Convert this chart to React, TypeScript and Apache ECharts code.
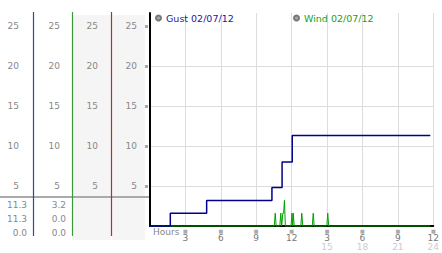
import React, { useEffect, useRef } from "react";
import * as echarts from "echarts";

const gustName = "Gust 02/07/12";
const windName = "Wind 02/07/12";
const xTitle = "Hours";

// hours since midnight, values
const gustHours = [0, 1.72, 4.8, 10.33, 11.19, 12.05, 23.75];
const gustValues = [0, 1.6, 3.2, 4.8, 8.0, 11.3, 11.3];

const windHours = [
  0, 10.53, 10.61, 10.69, 11.0, 11.08, 11.16, 11.25, 11.32, 11.39, 11.47,
  11.95, 12.03, 12.09, 12.14, 12.22, 12.78, 12.86, 12.94, 13.75, 13.83, 13.91,
  14.98, 15.06, 15.14, 23.75,
];
const windValues = [
  0, 0, 1.6, 0, 0, 1.6, 0, 1.6, 1.6, 3.2, 0,
  0, 1.6, 0, 1.6, 0, 0, 1.6, 0, 0, 1.6, 0,
  0, 1.6, 0, 0,
];

const yTickValues = [5, 10, 15, 20, 25];
const xMin = 0;
const xMax = 24;
const xInterval = 3;

const FONT = "DejaVu Sans";
const GUST_COLOR = "#00008b";
const WIND_COLOR = "#00a000";

const stats = (v: number[]) =>
  [Math.max(...v), v[v.length - 1], Math.min(...v)].map((x) => x.toFixed(1));

export default function App() {
  const ref = useRef<HTMLDivElement>(null);

  useEffect(() => {
    if (!ref.current) return;
    const chart = echarts.init(ref.current, null, { renderer: "svg" });

    const gridLeft = 150;
    const gridTop = 13;
    const gridBottom = 27;
    const H = 253;
    const yMax = (H - gridBottom - gridTop) / 8; // 8px per unit

    const colAxes = [39, 78, 117]; // offsets of the left columns' axes
    const colLineX = [33.5, 72.5, 111.5];
    const colLineColor = ["#2a4a9a", "#3a9a3a", "#b03030"];

    const gustStats = stats(gustValues);
    const windStats = stats(windValues);
    const tableRowsY = [205, 219, 233];

    const labelStyle = { color: "#888", fontFamily: FONT, fontSize: 9 };

    const yAxisBase = {
      type: "value" as const,
      min: 0,
      max: yMax,
      position: "left" as const,
      gridIndex: 0,
    };

    const graphics: any[] = [
      { type: "rect", z: -10, shape: { x: 73, y: 15, width: 38, height: 225 }, style: { fill: "#f5f5f5" } },
      { type: "rect", z: -10, shape: { x: 112, y: 15, width: 33, height: 225 }, style: { fill: "#f5f5f5" } },
      { type: "line", z: 5, shape: { x1: 0, y1: 197, x2: 149, y2: 197 }, style: { stroke: "#aaa", lineWidth: 2 } },
      {
        type: "text",
        z: 7,
        x: 153,
        y: 231.5,
        style: { text: xTitle, align: "left", verticalAlign: "middle", fill: "#888", font: `9px "${FONT}"` },
      },
    ];
    colLineX.forEach((x, i) =>
      graphics.push({
        type: "line",
        z: 6,
        shape: { x1: x, y1: 12, x2: x, y2: 236 },
        style: { stroke: colLineColor[i], lineWidth: 1.2 },
      })
    );
    [gustStats, windStats].forEach((col, ci) =>
      col.forEach((t, ri) =>
        graphics.push({
          type: "text",
          z: 7,
          x: ci === 0 ? 27 : 66,
          y: tableRowsY[ri],
          style: {
            text: t,
            align: "right",
            verticalAlign: "middle",
            fill: "#888",
            font: `9px "${FONT}"`,
          },
        })
      )
    );

    const legendCommon = {
      top: 13,
      icon: "circle",
      itemWidth: 5,
      itemHeight: 5,
      padding: 0,
      textStyle: { fontFamily: FONT, fontSize: 9.5 },
      selectedMode: false,
    };

    chart.setOption({
      animation: false,
      textStyle: { fontFamily: FONT },
      grid: { left: gridLeft, right: 4, top: gridTop, bottom: gridBottom },
      legend: [
        {
          ...legendCommon,
          data: [{ name: gustName, textStyle: { color: "#1a1aa0" } }],
          left: 155,
        },
        {
          ...legendCommon,
          data: [{ name: windName, textStyle: { color: "#20a020" } }],
          left: 293,
        },
      ],
      xAxis: {
        type: "value",
        min: xMin,
        max: xMax,
        interval: xInterval,
        axisLine: { lineStyle: { color: "#000", width: 2 } },
        axisTick: { show: false },
        splitLine: { show: true, lineStyle: { color: "#ddd", width: 1 } },
        axisLabel: {
          margin: 2,
          formatter: (v: number) => {
            if (v === 0) return "";
            const h12 = v % 12 === 0 ? 12 : v % 12;
            return v > 12 ? `{m|■}\n{a|${h12}}\n{b|${v}}` : `{m|■}\n{a|${h12}}`;
          },
          rich: {
            m: { color: "#aaa", fontFamily: FONT, fontSize: 5, lineHeight: 5 },
            a: { color: "#777", fontFamily: FONT, fontSize: 9, lineHeight: 9 },
            b: { color: "#ccc", fontFamily: FONT, fontSize: 9, lineHeight: 9 },
          },
        },
      },
      yAxis: [
        {
          ...yAxisBase,
          offset: 0,
          axisLine: { show: true, lineStyle: { color: "#000", width: 2 } },
          axisTick: {
            show: true,
            length: 6,
            customValues: yTickValues,
            lineStyle: { color: "#aaa", width: 3, type: [3, 10], dashOffset: -2 },
          },
          axisLabel: { ...labelStyle, margin: 13, customValues: yTickValues },
          splitLine: { show: true, showMaxLine: false, lineStyle: { color: "#ddd", width: 1 } },
        },
        ...colAxes.map((off, i) => ({
          ...yAxisBase,
          offset: off,
          axisLine: { show: false },
          axisTick: { show: false, customValues: yTickValues },
          splitLine: { show: false },
          axisLabel: { ...labelStyle, margin: i === 2 ? 14 : i === 1 ? 12 : 13, customValues: yTickValues },
        })),
      ],
      series: [
        {
          name: windName,
          type: "line",
          data: windHours.map((h, i) => [h, windValues[i]]),
          showSymbol: false,
          symbol: "none",
          clip: false,
          lineStyle: { color: WIND_COLOR, width: 1 },
          itemStyle: { color: "#aaa", borderColor: "#777", borderWidth: 1 },
          z: 3,
        },
        {
          name: gustName,
          type: "line",
          step: "end",
          clip: false,
          data: gustHours.map((h, i) => [h, gustValues[i]]),
          showSymbol: false,
          symbol: "none",
          lineStyle: { color: GUST_COLOR, width: 1.5 },
          itemStyle: { color: "#aaa", borderColor: "#777", borderWidth: 1 },
          z: 4,
        },
      ],
      graphic: graphics,
    });

    return () => chart.dispose();
  }, []);

  return (
    <div
      ref={ref}
      style={{ width: 442, height: 253, position: "absolute", left: 0, top: 0 }}
    />
  );
}
